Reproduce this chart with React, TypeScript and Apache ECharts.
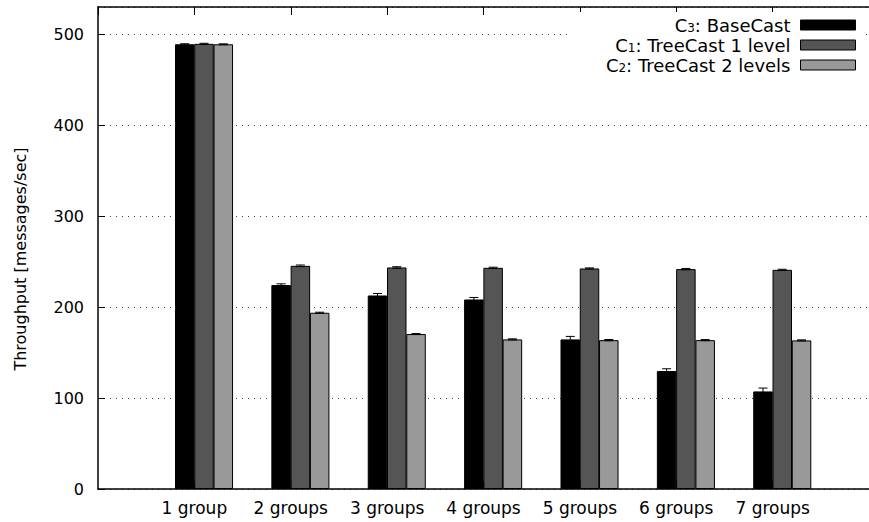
import React, { useEffect, useRef } from 'react';
import * as echarts from 'echarts';

const categories = ['1 group', '2 groups', '3 groups', '4 groups', '5 groups', '6 groups', '7 groups'];
const seriesNames = ['C3: BaseCast', 'C1: TreeCast 1 level', 'C2: TreeCast 2 levels'];
const baseCast = [489.0, 224.2, 212.8, 208.4, 164.5, 129.7, 107.3];
const treeCast1 = [489.5, 245.4, 243.6, 243.2, 242.5, 241.8, 241.0];
const treeCast2 = [489.0, 193.8, 170.4, 164.5, 163.7, 163.7, 163.4];
const baseCastErr = [0.6, 1.4, 2.2, 2.2, 3.3, 2.5, 3.7];
const treeCast1Err = [0.6, 0.9, 0.8, 0.7, 0.6, 0.7, 0.6];
const treeCast2Err = [0.5, 0.6, 0.6, 0.6, 0.7, 0.6, 0.6];
const yTickValues = [0, 100, 200, 300, 400, 500];

const FONT = 'DejaVu Sans';

export default function App() {
  const ref = useRef<HTMLDivElement>(null);
  useEffect(() => {
    if (!ref.current) return;
    const chart = echarts.init(ref.current, undefined, { renderer: 'svg' });
    const values = [baseCast, treeCast1, treeCast2];
    const errors = [baseCastErr, treeCast1Err, treeCast2Err];
    const colors = ['#000000', '#555555', '#999999'];
    const offsets = [-0.1, 0.1, 0.3];

    const barSeries = values.map((vals, s) => ({
      type: 'bar',
      name: seriesNames[s],
      xAxisIndex: 0,
      yAxisIndex: 0,
      barWidth: 19.5,
      barGap: '-100%',
      itemStyle: { color: colors[s], borderColor: '#000', borderWidth: 1 },
      data: vals.map((v, i) => [i + offsets[s], v]),
      z: 2,
    }));

    const errSeries = values.map((vals, s) => ({
      type: 'custom',
      name: seriesNames[s] + ' err',
      xAxisIndex: 0,
      yAxisIndex: 0,
      z: 3,
      silent: true,
      data: vals.map((v, i) => [i + offsets[s], v, errors[s][i]]),
      renderItem: (params: any, api: any) => {
        const x = api.value(0);
        const y = api.value(1);
        const e = api.value(2);
        const top = api.coord([x, y + e]);
        const bot = api.coord([x, y - e]);
        const hw = 4.5;
        const st = { stroke: '#000', lineWidth: 1 };
        return {
          type: 'group',
          children: [
            { type: 'line', shape: { x1: top[0], y1: top[1], x2: bot[0], y2: bot[1] }, style: st },
            { type: 'line', shape: { x1: top[0] - hw, y1: top[1], x2: top[0] + hw, y2: top[1] }, style: st },
            { type: 'line', shape: { x1: bot[0] - hw, y1: bot[1], x2: bot[0] + hw, y2: bot[1] }, style: st },
          ],
        };
      },
    }));

    const option: any = {
      animation: false,
      backgroundColor: '#fff',
      textStyle: { fontFamily: FONT },
      grid: { left: 98, right: -8, top: 7, bottom: 33, containLabel: false },
      xAxis: [
        {
          type: 'value',
          position: 'bottom',
          min: -1,
          max: 7,
          interval: 1,
          axisLine: { show: true, onZero: false, lineStyle: { color: '#000', width: 1.5 } },
          axisTick: { show: true, inside: true, length: 8, lineStyle: { color: '#000' } },
          axisLabel: {
            show: true,
            margin: 10,
            color: '#000',
            fontFamily: FONT,
            fontSize: 17,
            showMinLabel: false,
            showMaxLabel: false,
            formatter: (v: number) => categories[Math.round(v)] ?? '',
          },
          splitLine: { show: false },
        },
        {
          type: 'value',
          position: 'top',
          min: -1,
          max: 7,
          interval: 1,
          axisLine: { show: true, onZero: false, lineStyle: { color: '#000', width: 1.5 } },
          axisTick: { show: true, inside: true, length: 8, lineStyle: { color: '#000' } },
          axisLabel: { show: false },
          splitLine: { show: false },
        },
      ],
      yAxis: {
        type: 'value',
        position: 'left',
        min: 0,
        max: 530,
        interval: 100,
        axisLine: { show: true, onZero: false, lineStyle: { color: '#000', width: 1.5 } },
        axisTick: { show: true, inside: true, length: 7, lineStyle: { color: '#000' } },
        axisLabel: {
          margin: 14,
          color: '#000',
          fontFamily: FONT,
          fontSize: 16,
          showMaxLabel: false,
          formatter: (v: number) => (yTickValues.includes(v) ? String(v) : ''),
        },
        splitLine: { show: true, lineStyle: { color: '#444', width: 1, type: [1, 5] } },
      },
      legend: {
        show: true,
        orient: 'vertical',
        align: 'right',
        icon: 'rect',
        right: 6,
        top: 12,
        itemWidth: 55,
        itemHeight: 10,
        itemGap: 2,
        padding: [4, 7, 4, 34],
        backgroundColor: '#fff',
        data: seriesNames,
        itemStyle: { borderColor: '#000', borderWidth: 1 },
        formatter: (name: string) => {
          const m = name.match(/^C(\d)(.*)$/);
          if (!m) return name;
          return '{n|C}{s|' + m[1] + '}{n|' + m[2] + '}';
        },
        textStyle: {
          fontFamily: FONT,
          fontSize: 18,
          color: '#000',
          lineHeight: 18,
          padding: [0, 5, 0, 0],
          rich: {
            n: { fontFamily: FONT, fontSize: 18, lineHeight: 18, color: '#000' },
            s: { fontFamily: FONT, fontSize: 12, lineHeight: 8, verticalAlign: 'bottom', color: '#000' },
          },
        },
      },
      graphic: [
        {
          type: 'text',
          x: 20,
          y: 259,
          rotation: Math.PI / 2,
          style: {
            text: 'Throughput [messages/sec]',
            fontFamily: FONT,
            fontSize: 16,
            fill: '#000',
            align: 'center',
            verticalAlign: 'middle',
          },
        },
      ],
      series: [...barSeries, ...errSeries],
    };
    chart.setOption(option);
    return () => chart.dispose();
  }, []);
  return <div ref={ref} style={{ width: 869, height: 522, position: 'fixed', left: 0, top: 0 }} />;
}
